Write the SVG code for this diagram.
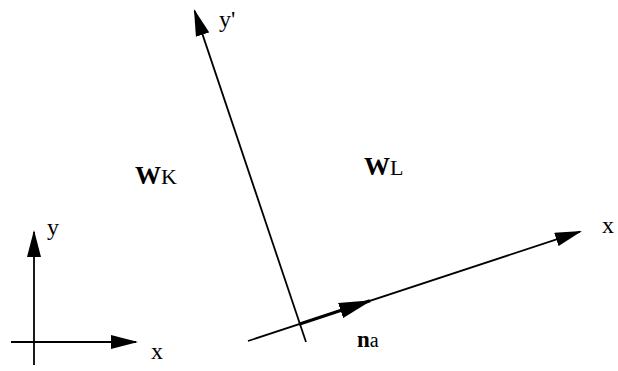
<svg xmlns="http://www.w3.org/2000/svg" width="618" height="371" viewBox="0 0 618 371">
<style>
.ax{stroke:#000;stroke-width:1.8;fill:none}
.na{stroke:#000;stroke-width:3.2;fill:none}
text{font-family:"Liberation Serif","Times New Roman",serif;fill:#000}
.lbl{font-size:24px}
.b{font-weight:bold}
</style>
<defs>
<marker id="ah" viewBox="0 0 27 14" refX="25" refY="7" markerWidth="27" markerHeight="14" markerUnits="userSpaceOnUse" orient="auto">
<path d="M0,0 L27,7 L0,14 Z" fill="#000"/>
</marker>
<marker id="ahb" viewBox="0 0 33 16" refX="31" refY="8" markerWidth="33" markerHeight="16" markerUnits="userSpaceOnUse" orient="auto">
<path d="M0,0 L33,8 L0,16 Z" fill="#000"/>
</marker>
</defs>
<g id="connectors">
<line class="ax" x1="34" y1="365" x2="34" y2="232" marker-end="url(#ah)"/>
<line class="ax" x1="11" y1="342" x2="136" y2="342" marker-end="url(#ah)"/>
<line class="ax" x1="306" y1="342" x2="194.6" y2="10.9" marker-end="url(#ah)"/>
<line class="ax" x1="248" y1="341" x2="580.1" y2="231.6" marker-end="url(#ah)"/>
<line class="na" x1="299" y1="324.2" x2="370" y2="300.8" marker-end="url(#ahb)"/>
</g>
<g font-family="Liberation Serif, Times New Roman, serif">
<g id="label-y"><text class="lbl" x="47" y="235">y</text></g>
<g id="label-x"><text class="lbl" x="151" y="359">x</text></g>
<g id="label-yprime"><text class="lbl" x="219" y="27">y'</text></g>
<g id="label-xprime"><text class="lbl" x="602" y="233">x</text></g>
<g id="label-WK"><text x="135" y="184"><tspan class="b" font-size="26">W</tspan><tspan font-size="22">K</tspan></text></g>
<g id="label-WL"><text x="364" y="175"><tspan class="b" font-size="26">W</tspan><tspan font-size="22">L</tspan></text></g>
<g id="label-na"><text x="357" y="347"><tspan class="b" font-size="23">n</tspan><tspan font-size="20">a</tspan></text></g>
</g>
</svg>
